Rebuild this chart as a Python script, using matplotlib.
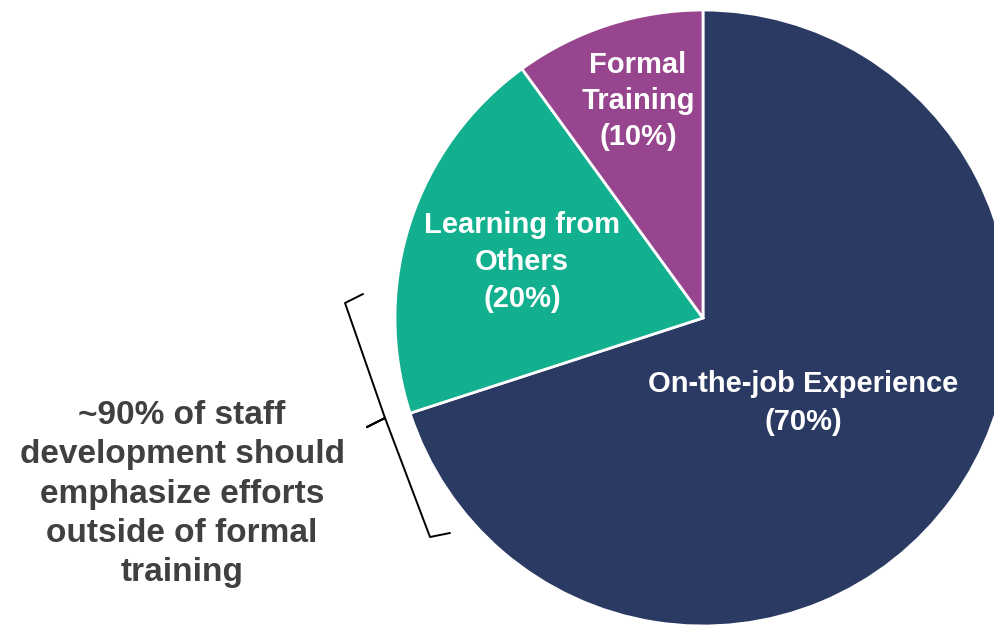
import matplotlib.pyplot as plt
from matplotlib.path import Path
from matplotlib.patches import PathPatch

plt.rcParams['font.family'] = ['Liberation Sans', 'DejaVu Sans']

# shares of staff development
labels = ['On-the-job Experience\n(70%)', 'Learning from\nOthers\n(20%)', 'Formal\nTraining\n(10%)']
shares = [70, 20, 10]
colors = ['#2A3A62', '#12B08F', '#96458E']

W, H = 995, 625
fig = plt.figure(figsize=(W / 100, H / 100), dpi=100)
ax = fig.add_axes([0, 0, 1, 1])

# work in pixel-like coords, y pointing up
cx, cy, R = 703, H - 318, 308
wedges, _ = ax.pie(shares, colors=colors, startangle=90, counterclock=False,
                   center=(cx, cy), radius=R, frame=True,
                   wedgeprops=dict(edgecolor='white', linewidth=2))
ax.set_xlim(0, W)
ax.set_ylim(0, H)
ax.set_aspect('equal')
ax.axis('off')

label_pos = [(803, H - 403), (522, H - 262), (638, H - 101)]
label_spacing = [1.45, 1.42, 1.38]
for txt, (x, y), ls in zip(labels, label_pos, label_spacing):
    ax.text(x, y, txt, ha='center', va='center', color='white',
            fontsize=21, fontweight='bold', linespacing=ls)

# curly brace on the left of the pie
pts = [(363, H - 294), (345, H - 303), (385, H - 418), (367, H - 427),
       (385, H - 418), (430, H - 537), (450, H - 533)]
brace = Path(pts, [Path.MOVETO] + [Path.LINETO] * 6)
ax.add_patch(PathPatch(brace, fill=False, edgecolor='black', linewidth=1.4,
                       joinstyle='round', capstyle='round'))

ax.text(182, H - 494, '~90% of staff\ndevelopment should\nemphasize efforts\noutside of formal\ntraining',
        ha='center', va='center', color='#404040', fontsize=24,
        fontweight='bold', linespacing=1.34)

fig.savefig('out.png', dpi=100)
